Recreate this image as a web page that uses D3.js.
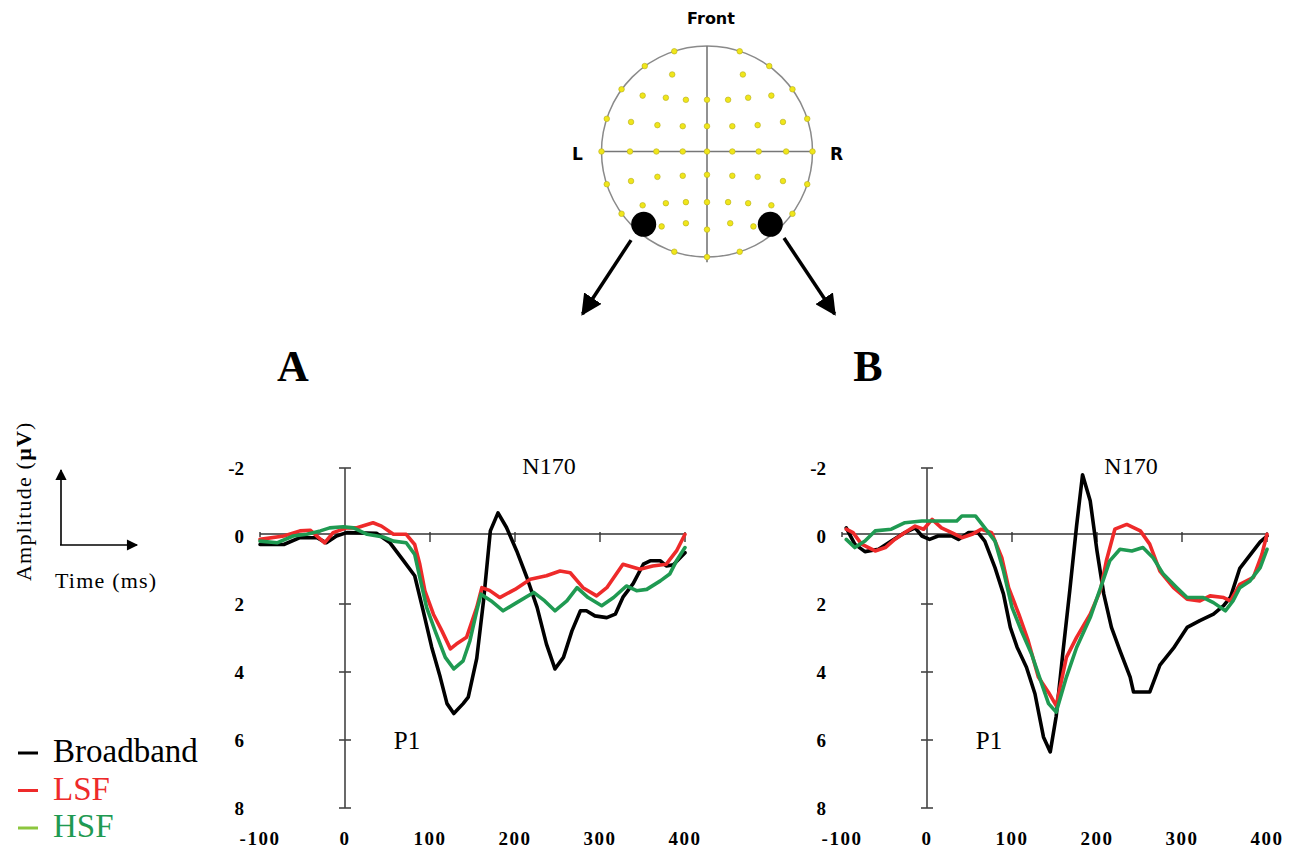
<!DOCTYPE html>
<html>
<head>
<meta charset="utf-8">
<script src="https://cdn.jsdelivr.net/npm/d3@7"></script>
<style>
  body { margin: 0; background: #fff; }
  svg { display: block; }
</style>
</head>
<body>
<div class="charts"></div>
<script>
// ---- data ----
// x = time (ms), y = amplitude (µV, positive plotted down)
const aBroadband = [[-100,0.25],[-72,0.25],[-53,0.05],[-33,0.05],[-22,0.2],[-10,0.0],[2,-0.1],[37,-0.08],[53,0.2],[69,0.73],[82,1.17],[92,2.2],[102,3.27],[112,4.15],[120,4.93],[128,5.22],[139,4.93],[145,4.74],[155,3.6],[163,1.9],[171,-0.15],[180,-0.68],[190,-0.25],[202,0.44],[214,1.22],[226,2.1],[237,3.18],[247,3.91],[257,3.57],[267,2.79],[277,2.2],[284,2.2],[294,2.35],[308,2.4],[318,2.3],[327,1.8],[339,1.4],[351,0.83],[359,0.73],[371,0.73],[378,0.88],[386,0.85],[400,0.49]];
const aLSF = [[-100,0.1],[-72,0.0],[-53,-0.15],[-41,-0.17],[-31,0.05],[-24,0.2],[-14,-0.1],[2,-0.24],[14,-0.24],[33,-0.39],[43,-0.29],[57,-0.05],[72,-0.05],[82,0.25],[88,0.83],[94,1.61],[104,2.3],[114,2.79],[124,3.32],[131,3.18],[143,2.98],[155,2.1],[161,1.52],[170,1.6],[182,1.81],[200,1.57],[218,1.27],[237,1.17],[253,1.03],[265,1.08],[280,1.52],[296,1.76],[308,1.52],[327,0.83],[347,0.98],[362,0.88],[378,0.83],[390,0.44],[400,-0.05]];
const aHSF = [[-100,0.15],[-80,0.2],[-61,0.0],[-45,-0.05],[-29,-0.15],[-18,-0.24],[-2,-0.27],[10,-0.24],[26,-0.05],[45,0.03],[57,0.15],[72,0.2],[82,0.54],[88,1.22],[96,2.1],[106,2.79],[118,3.57],[128,3.91],[139,3.67],[147,3.08],[155,2.2],[160,1.71],[172,1.91],[186,2.2],[202,1.96],[222,1.66],[235,1.91],[247,2.2],[261,1.91],[273,1.52],[286,1.81],[302,2.05],[316,1.81],[331,1.47],[343,1.61],[355,1.57],[371,1.32],[382,1.12],[390,0.73],[400,0.34]];

const bBroadband = [[-95,-0.24],[-85,0.24],[-73,0.46],[-57,0.39],[-42,0.15],[-26,-0.1],[-14,-0.24],[-6,0],[3,0.1],[13,0],[29,0],[37,0.1],[49,-0.1],[60,-0.1],[68,0.15],[80,0.93],[90,1.71],[98,2.69],[106,3.27],[117,3.86],[127,4.64],[137,5.91],[145,6.35],[152,5.3],[160,3.4],[168,1.6],[176,-0.3],[183,-1.8],[192,-1.04],[200,0.44],[208,1.71],[217,2.69],[227,3.37],[239,4.15],[243,4.59],[262,4.59],[274,3.8],[290,3.3],[306,2.69],[321,2.49],[337,2.3],[349,2.05],[357,1.8],[368,0.95],[380,0.56],[392,0.17],[400,0]];
const bLSF = [[-95,-0.2],[-87,-0.1],[-77,0.24],[-61,0.44],[-49,0.34],[-38,0.1],[-26,-0.1],[-14,-0.29],[-4,-0.2],[6,-0.49],[17,-0.24],[29,-0.1],[41,0.05],[53,-0.05],[64,-0.2],[76,-0.1],[88,0.64],[96,1.52],[108,2.3],[119,3.08],[131,4.15],[143,4.6],[152,4.99],[164,3.57],[176,2.98],[192,2.3],[204,1.6],[211,0.73],[221,-0.2],[235,-0.34],[251,-0.15],[262,0.24],[274,1.03],[290,1.52],[306,1.86],[321,1.91],[333,1.76],[349,1.81],[357,1.91],[368,1.42],[384,1.22],[394,0.54],[400,-0.05]];
const bHSF = [[-95,0.1],[-85,0.34],[-73,0.15],[-61,-0.15],[-42,-0.2],[-26,-0.39],[-6,-0.44],[10,-0.44],[35,-0.44],[41,-0.59],[57,-0.59],[68,-0.24],[80,0.15],[90,1.03],[100,2.1],[111,2.79],[123,3.47],[135,4.35],[143,4.93],[152,5.18],[164,4.15],[176,3.28],[192,2.4],[207,1.32],[215,0.73],[227,0.39],[241,0.44],[254,0.34],[266,0.64],[278,1.12],[294,1.52],[306,1.81],[325,1.81],[337,1.96],[351,2.2],[360,1.91],[368,1.52],[380,1.32],[392,0.93],[400,0.39]];

const seriesNames = ["Broadband", "LSF", "HSF"];
const xTickValues = [-100, 0, 100, 200, 300, 400];
const yTickValues = [-2, 0, 2, 4, 6, 8];

// head map: electrode positions in head units (-1..1), y down = back of head
const electrodes = [[-0.31,-0.95],[0.31,-0.95],[-0.59,-0.81],[0.59,-0.81],[-0.81,-0.59],[0.81,-0.59],[-0.95,-0.31],[0.95,-0.31],[-1,0],[1,0],[-0.95,0.31],[0.95,0.31],[-0.81,0.59],[0.81,0.59],[-0.31,0.95],[0.31,0.95],[0,1],
  [-0.33,-0.73],[0.34,-0.73],
  [-0.61,-0.53],[-0.39,-0.51],[-0.2,-0.49],[0,-0.49],[0.2,-0.49],[0.39,-0.51],[0.61,-0.53],
  [-0.72,-0.28],[-0.47,-0.25],[-0.23,-0.24],[0,-0.24],[0.24,-0.24],[0.48,-0.25],[0.72,-0.28],
  [-0.73,0],[-0.48,0],[-0.23,0],[0,0],[0.24,0],[0.49,0],[0.75,0],
  [-0.72,0.28],[-0.47,0.24],[-0.23,0.23],[0,0.22],[0.24,0.23],[0.48,0.24],[0.72,0.28],
  [-0.61,0.51],[-0.39,0.49],[-0.2,0.48],[0,0.48],[0.2,0.48],[0.39,0.49],[0.61,0.51],
  [-0.43,0.71],[-0.2,0.68],[0,0.74],[0.22,0.68],[0.44,0.71]];
const selectedSites = [[-0.6,0.69],[0.6,0.69]];
const siteArrows = [[[-0.72,0.84],[-1.18,1.54]], [[0.73,0.82],[1.21,1.54]]];

// ---- layout ----
const width = 1296, height = 849;
const serif = "'Liberation Serif', 'Times New Roman', serif";
const sans = "'DejaVu Sans', Verdana, sans-serif";

function colors(i) {
    return ["#000000", "#ee2a2a", "#1f9a52"][i];
}

const svg = d3.select(".charts").append("svg")
    .attr("width", width)
    .attr("height", height)
    .attr("viewBox", [0, 0, width, height]);

const defs = svg.append("defs");
defs.append("marker")
    .attr("id", "arrow")
    .attr("viewBox", "0 0 10 10")
    .attr("refX", 9).attr("refY", 5)
    .attr("markerWidth", 6).attr("markerHeight", 6)
    .attr("markerUnits", "strokeWidth")
    .attr("orient", "auto")
    .append("path").attr("d", "M0,0L10,5L0,10Z").attr("fill", "#000");
defs.append("marker")
    .attr("id", "arrowSmall")
    .attr("viewBox", "0 0 10 10")
    .attr("refX", 9).attr("refY", 5)
    .attr("markerWidth", 8).attr("markerHeight", 7)
    .attr("markerUnits", "strokeWidth")
    .attr("orient", "auto")
    .append("path").attr("d", "M0,0L10,5L0,10Z").attr("fill", "#000");

// ---- head diagram ----
const hx = d3.scaleLinear().domain([-1, 1]).range([601.5, 812.5]);
const hy = d3.scaleLinear().domain([-1, 1]).range([46, 257]);
const head = svg.append("g");

head.append("circle")
    .attr("cx", hx(0)).attr("cy", hy(0))
    .attr("r", hx(1) - hx(0))
    .attr("fill", "none").attr("stroke", "#8a8a8a").attr("stroke-width", 1.5);
head.append("line")
    .attr("x1", hx(0)).attr("x2", hx(0))
    .attr("y1", hy(-1)).attr("y2", hy(1.05))
    .attr("stroke", "#777").attr("stroke-width", 1.6);
head.append("line")
    .attr("x1", hx(-1)).attr("x2", hx(1))
    .attr("y1", hy(0)).attr("y2", hy(0))
    .attr("stroke", "#777").attr("stroke-width", 1.6);

head.selectAll(".el")
    .data(electrodes)
    .join("circle")
    .attr("class", "el")
    .attr("cx", d => hx(d[0])).attr("cy", d => hy(d[1]))
    .attr("r", 2.8)
    .attr("fill", "#f0e61a")
    .attr("stroke", "#b5ad1e").attr("stroke-width", 0.6);

head.selectAll(".site")
    .data(selectedSites)
    .join("circle")
    .attr("class", "site")
    .attr("cx", d => hx(d[0])).attr("cy", d => hy(d[1]))
    .attr("r", 12.5)
    .attr("fill", "#000");

head.selectAll(".arr")
    .data(siteArrows)
    .join("line")
    .attr("class", "arr")
    .attr("x1", d => hx(d[0][0])).attr("y1", d => hy(d[0][1]))
    .attr("x2", d => hx(d[1][0])).attr("y2", d => hy(d[1][1]))
    .attr("stroke", "#000").attr("stroke-width", 3.5)
    .attr("marker-end", "url(#arrow)");

head.append("text").text("Front")
    .attr("x", hx(0) + 4).attr("y", 24)
    .attr("text-anchor", "middle")
    .attr("font-family", sans).attr("font-weight", "bold").attr("font-size", 16);
head.append("text").text("L")
    .attr("x", hx(-1) - 24).attr("y", hy(0) + 8)
    .attr("text-anchor", "middle")
    .attr("font-family", sans).attr("font-weight", "bold").attr("font-size", 17);
head.append("text").text("R")
    .attr("x", hx(1) + 24).attr("y", hy(0) + 8)
    .attr("text-anchor", "middle")
    .attr("font-family", sans).attr("font-weight", "bold").attr("font-size", 17);

// ---- ERP panels ----
const y = d3.scaleLinear().domain([-2, 8]).range([468, 808]);

function drawPanel(letter, xRange, letterX, labelRight, series) {
    const x = d3.scaleLinear().domain([-100, 400]).range(xRange);
    const g = svg.append("g");

    // panel letter
    g.append("text").text(letter)
        .attr("x", letterX).attr("y", 381)
        .attr("text-anchor", "middle")
        .attr("font-family", serif).attr("font-weight", "bold").attr("font-size", 44);

    // x axis along the zero line
    g.append("line")
        .attr("x1", x(-100)).attr("x2", x(400))
        .attr("y1", y(0) - 2).attr("y2", y(0) - 2)
        .attr("stroke", "#333").attr("stroke-width", 1.4);
    g.selectAll(".xtick")
        .data(xTickValues.filter(d => d !== 0))
        .join("line")
        .attr("x1", d => x(d)).attr("x2", d => x(d))
        .attr("y1", y(0) - 4).attr("y2", d => y(0) + (d === -100 ? 1 : 6))
        .attr("stroke", "#333").attr("stroke-width", 1.4);

    // y axis at time 0
    g.append("line")
        .attr("x1", x(0)).attr("x2", x(0))
        .attr("y1", y(-2)).attr("y2", y(8))
        .attr("stroke", "#444").attr("stroke-width", 1.6);
    g.selectAll(".ytick")
        .data(yTickValues.filter(d => d !== 0))
        .join("line")
        .attr("x1", x(0) - 6).attr("x2", x(0) + 6)
        .attr("y1", d => y(d)).attr("y2", d => y(d))
        .attr("stroke", "#444").attr("stroke-width", 1.6);

    // tick labels
    g.selectAll(".ylab")
        .data(yTickValues)
        .join("text")
        .text(d => d)
        .attr("x", labelRight).attr("y", d => y(d) + 7)
        .attr("text-anchor", "end")
        .attr("font-family", serif).attr("font-weight", "bold").attr("font-size", 19);
    g.selectAll(".xlab")
        .data(xTickValues)
        .join("text")
        .text(d => d)
        .attr("x", d => x(d)).attr("y", 845)
        .attr("text-anchor", "middle")
        .attr("font-family", serif).attr("font-weight", "bold").attr("font-size", 19)
        .attr("letter-spacing", 1.5);

    // component labels
    g.append("text").text("N170")
        .attr("x", x(240)).attr("y", 474)
        .attr("text-anchor", "middle")
        .attr("font-family", serif).attr("font-size", 24);
    g.append("text").text("P1")
        .attr("x", x(73)).attr("y", 749)
        .attr("text-anchor", "middle")
        .attr("font-family", serif).attr("font-size", 25);

    const line = d3.line()
        .x(d => x(d[0]))
        .y(d => y(d[1]))
        .curve(d3.curveLinear);

    g.append("g")
        .attr("fill", "none")
        .attr("stroke-width", 3.6)
        .attr("stroke-linejoin", "round")
        .attr("stroke-linecap", "round")
        .selectAll("path")
        .data(series)
        .join("path")
        .attr("d", d => line(d))
        .attr("stroke", (d, i) => colors(i));
}

drawPanel("A", [260, 685], 293, 244, [aBroadband, aLSF, aHSF]);
drawPanel("B", [842, 1267], 868, 826, [bBroadband, bLSF, bHSF]);

// ---- orientation key ----
const key = svg.append("g");
key.append("line")
    .attr("x1", 61).attr("y1", 545).attr("x2", 61).attr("y2", 470)
    .attr("stroke", "#000").attr("stroke-width", 1.6)
    .attr("marker-end", "url(#arrowSmall)");
key.append("line")
    .attr("x1", 60).attr("y1", 545).attr("x2", 137).attr("y2", 545)
    .attr("stroke", "#000").attr("stroke-width", 1.6)
    .attr("marker-end", "url(#arrowSmall)");
key.append("text")
    .attr("transform", "translate(31,581) rotate(-90)")
    .attr("font-family", serif).attr("font-size", 22)
    .attr("letter-spacing", 1.2)
    .call(t => t.append("tspan").text("Amplitude ("))
    .call(t => t.append("tspan").attr("font-weight", "bold").text("µV"))
    .call(t => t.append("tspan").text(")"));
key.append("text").text("Time (ms)")
    .attr("x", 55).attr("y", 588)
    .attr("font-family", serif).attr("font-size", 22)
    .attr("letter-spacing", 1.2);

// ---- legend ----
const legendColors = ["#000000", "#ee2a2a", "#8cc63e"];
const legendText = ["#000000", "#ee2a2a", "#1f9a52"];
const legendY = d3.scalePoint().domain(seriesNames).range([762, 837]);
const legend = svg.append("g");
legend.selectAll("line")
    .data(seriesNames)
    .join("line")
    .attr("x1", 18).attr("x2", 38)
    .attr("y1", d => legendY(d) - 9).attr("y2", d => legendY(d) - 9)
    .attr("stroke", (d, i) => legendColors[i]).attr("stroke-width", 3);
legend.selectAll("text")
    .data(seriesNames)
    .join("text")
    .text(d => d)
    .attr("x", 53).attr("y", d => legendY(d))
    .attr("fill", (d, i) => legendText[i])
    .attr("font-family", serif).attr("font-size", 33);
</script>
</body>
</html>
